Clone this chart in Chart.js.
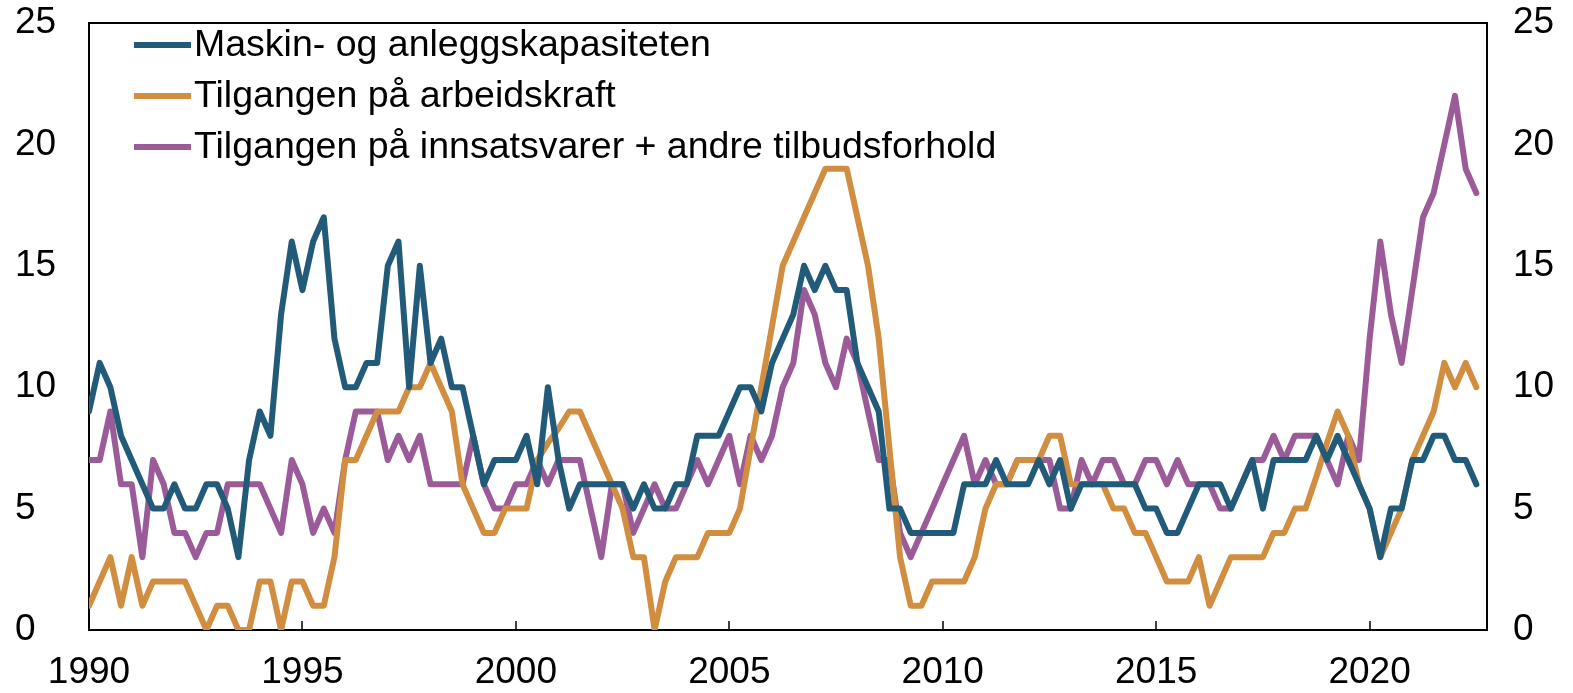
<!DOCTYPE html>
<html><head><meta charset="utf-8">
<script src="https://cdn.jsdelivr.net/npm/chart.js@4/dist/chart.umd.min.js"></script>
<style>html,body{margin:0;padding:0;background:#fff;overflow:hidden}#wrap{width:1573px;height:693px}</style>
</head><body><div id="wrap"><canvas id="c" width="1573" height="693"></canvas></div>
<script>
// ---- data ----
const startYear = 1990;          // first quarter 1990K1, quarterly observations
const xMax = 2022.75;
const yearTicks = [1990, 1995, 2000, 2005, 2010, 2015, 2020];
const yTicks = [0, 5, 10, 15, 20, 25];
const seriesLabels = [
  "Maskin- og anleggskapasiteten",
  "Tilgangen på arbeidskraft",
  "Tilgangen på innsatsvarer + andre tilbudsforhold"
];
const maskin = [9,11,10,8,7,6,5,5,6,5,
  5,6,6,5,3,7,9,8,13,16,
  14,16,17,12,10,10,11,11,15,16,
  10,15,11,12,10,10,8,6,7,7,
  7,8,6,10,7,5,6,6,6,6,
  6,5,6,5,5,6,6,8,8,8,
  9,10,10,9,11,12,13,15,14,15,
  14,14,11,10,9,5,5,4,4,4,
  4,4,6,6,6,7,6,6,6,7,
  6,7,5,6,6,6,6,6,6,5,
  5,4,4,5,6,6,6,5,6,7,
  5,7,7,7,7,8,7,8,7,6,
  5,3,5,5,7,7,8,8,7,7,
  6];
const arbeidskraft = [1,2,3,1,3,1,2,2,2,2,
  1,0,1,1,0,0,2,2,0,2,
  2,1,1,3,7,7,8,9,9,9,
  10,10,11,10,9,6,5,4,4,5,
  5,5,7,7.7,8.3,9,9,8,7,6,
  5,3,3,0,2,3,3,3,4,4,
  4,5,7.5,10,12.5,15,16,17,18,19,
  19,19,17,15,12,7.5,3,1,1,2,
  2,2,2,3,5,6,6,7,7,7,
  8,8,6,6,6,6,5,5,4,4,
  3,2,2,2,3,1,2,3,3,3,
  3,4,4,5,5,6.3,7.7,9,8,6,
  5,3,4,5,7,8,9,11,10,11,
  10];
const innsatsvarer = [7,7,9,6,6,3,7,6,4,4,
  3,4,4,6,6,6,6,5,4,7,
  6,4,5,4,7,9,9,9,7,8,
  7,8,6,6,6,6,8,6,5,5,
  6,6,7,6,7,7,7,5,3,6,
  6,4,5,6,5,5,6,7,6,7,
  8,6,8,7,8,10,11,14,13,11,
  10,12,11,9,7,7,4,3,4,5,
  6,7,8,6,7,6,6,7,7,7,
  7,5,5,7,6,7,7,6,6,7,
  7,6,7,6,6,6,5,5,6,7,
  7,8,7,8,8,8,7,6,8,7,
  12,16,13,11,14,17,18,20,22,19,
  18];
const colors = ["#215b79", "#d18d40", "#9a5b98"];

const toPoints = arr => arr.map((v, i) => ({x: startYear + i / 4, y: v}));
const FONT = "Liberation Sans, Arial, sans-serif";

const decorPlugin = {
  id: 'decor',
  beforeDatasetsDraw(chart) {
    const {ctx, chartArea: a, scales: {x}} = chart;
    ctx.save();
    ctx.strokeStyle = '#000';
    ctx.lineWidth = 2;
    ctx.strokeRect(a.left, a.top, a.right - a.left, a.bottom - a.top);
    ctx.lineWidth = 1.5;
    yearTicks.forEach(t => {
      const px = Math.round(x.getPixelForValue(t));
      ctx.beginPath(); ctx.moveTo(px, a.bottom); ctx.lineTo(px, a.bottom - 9); ctx.stroke();
    });
    ctx.restore();
  },
  afterDraw(chart) {
    const {ctx} = chart;
    ctx.save();
    ctx.font = "37.5px " + FONT;
    ctx.textBaseline = 'middle';
    ctx.fillStyle = '#000';
    chart.data.datasets.forEach((ds, i) => {
      const y = 45 + i * 51;
      ctx.strokeStyle = ds.borderColor;
      ctx.lineWidth = 6;
      ctx.lineCap = 'butt';
      ctx.beginPath(); ctx.moveTo(134, y); ctx.lineTo(191, y); ctx.stroke();
      ctx.fillText(ds.label, 194, y + 1);
    });
    ctx.restore();
  }
};

const yAxisCommon = {
  min: 0, max: 25,
  afterBuildTicks: s => { s.ticks = yTicks.map(v => ({value: v})); },
  grid: {display: false, drawTicks: false},
  border: {display: false},
};

new Chart(document.getElementById('c'), {
  type: 'line',
  data: {
    datasets: [maskin, arbeidskraft, innsatsvarer].map((arr, i) => ({
      label: seriesLabels[i],
      data: toPoints(arr),
      borderColor: colors[i],
      backgroundColor: colors[i],
      borderWidth: 6,
      pointRadius: 0,
      tension: 0,
      yAxisID: 'y',
      borderJoinStyle: 'round',
      borderCapStyle: 'round'
    }))
  },
  options: {
    responsive: false,
    animation: false,
    devicePixelRatio: 1,
    layout: {padding: {top: 23, left: 15, right: 0, bottom: 0}},
    plugins: {legend: {display: false}, tooltip: {enabled: false}},
    scales: {
      x: {
        type: 'linear', position: 'bottom', min: startYear, max: xMax,
        afterBuildTicks: s => { s.ticks = yearTicks.map(v => ({value: v})); },
        afterFit: s => { s.height = 63; s.paddingLeft = 0; s.paddingRight = 0; },
        grid: {display: false, drawTicks: false},
        border: {display: false},
        ticks: {
          color: '#000', font: {size: 37, family: FONT}, padding: 21,
          maxRotation: 0, autoSkip: false, callback: v => String(v)
        }
      },
      y: Object.assign({}, yAxisCommon, {
        position: 'left',
        afterFit: s => { s.width = 74; s.paddingTop = 0; s.paddingBottom = 0; },
        ticks: {color: '#000', font: {size: 37, family: FONT}, padding: 18, crossAlign: 'far', callback: v => String(v)}
      }),
      y2: Object.assign({}, yAxisCommon, {
        position: 'right',
        afterFit: s => { s.width = 86; s.paddingTop = 0; s.paddingBottom = 0; },
        ticks: {color: '#000', font: {size: 37, family: FONT}, padding: 26, callback: v => String(v)}
      })
    }
  },
  plugins: [decorPlugin]
});
</script></body></html>
